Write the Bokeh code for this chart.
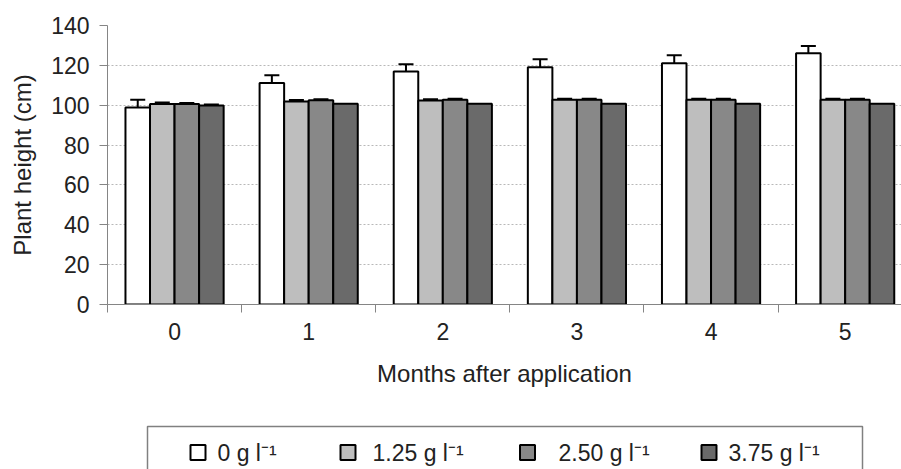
from bokeh.plotting import figure
from bokeh.models import Range1d, FixedTicker, ColumnDataSource, Whisker, TeeHead
from bokeh.layouts import column
from bokeh.core.properties import value
from bokeh.embed import file_html
from bokeh.resources import INLINE

# ---- data ----
months = ["0", "1", "2", "3", "4", "5"]
series_labels = ["0 g l\u207b\u00b9", "1.25 g l\u207b\u00b9", "2.50 g l\u207b\u00b9", "3.75 g l\u207b\u00b9"]
h_0 = [98.9, 111.1, 116.9, 119.1, 121.1, 126.1]
e_0 = [3.9, 3.9, 3.6, 4.0, 4.0, 3.6]
h_125 = [100.6, 101.9, 102.4, 102.7, 102.7, 102.7]
e_125 = [0.7, 0.7, 0.6, 0.6, 0.6, 0.6]
h_250 = [100.6, 102.5, 102.8, 102.8, 102.8, 102.8]
e_250 = [0.5, 0.5, 0.5, 0.5, 0.5, 0.5]
h_375 = [99.8, 100.7, 100.7, 100.7, 100.7, 100.7]
e_375 = [0.5, 0.0, 0.0, 0.0, 0.0, 0.0]
y_ticks = [0, 20, 40, 60, 80, 100, 120, 140]

heights = [h_0, h_125, h_250, h_375]
errors = [e_0, e_125, e_250, e_375]
colors = ["#ffffff", "#bebebe", "#888888", "#6a6a6a"]

FONT = "Liberation Sans"
TXT = "#222222"
AX = "#858585"

bar_w = 0.183
n = len(months)

p = figure(width=901, height=418, x_range=Range1d(0, 5.92), y_range=Range1d(0, 140),
           output_backend="svg", toolbar_location=None,
           min_border_left=107, min_border_top=25, min_border_right=0, min_border_bottom=114)
p.outline_line_color = None
p.background_fill_color = "white"

for k, (hs, es, c) in enumerate(zip(heights, errors, colors)):
    off = (k - 1.5) * bar_w
    xs = [i + 0.5 + off for i in range(n)]
    src = ColumnDataSource(dict(x=xs, top=hs))
    p.vbar(x="x", top="top", bottom=0, width=bar_w, source=src,
           fill_color=c, line_color="black", line_width=2)
    ex = [x for x, e in zip(xs, es) if e > 0]
    lo = [h - e for h, e in zip(hs, es) if e > 0]
    up = [h + e for h, e in zip(hs, es) if e > 0]
    esrc = ColumnDataSource(dict(x=ex, lower=lo, upper=up))
    w = Whisker(source=esrc, base="x", lower="lower", upper="upper",
                line_color="black", line_width=2,
                upper_head=TeeHead(size=15, line_width=2, line_color="black"),
                lower_head=TeeHead(size=15, line_width=2, line_color="black"))
    p.add_layout(w)

# y axis
p.yaxis.ticker = FixedTicker(ticks=y_ticks)
p.yaxis.axis_label = "Plant height (cm)"
p.yaxis.axis_label_text_font = FONT
p.yaxis.axis_label_text_font_size = "24px"
p.yaxis.axis_label_text_font_style = "normal"
p.yaxis.axis_label_text_color = TXT
p.yaxis.axis_label_standoff = 12
p.yaxis.major_label_text_font = FONT
p.yaxis.major_label_text_font_size = "23px"
p.yaxis.major_label_text_color = TXT
p.yaxis.major_label_standoff = 10
p.yaxis.major_tick_out = 8
p.yaxis.major_tick_in = 0
p.yaxis.minor_tick_line_color = None
p.yaxis.axis_line_color = AX
p.yaxis.major_tick_line_color = AX

# x axis
centers = [i + 0.5 for i in range(n)]
p.xaxis.ticker = FixedTicker(ticks=centers, minor_ticks=list(range(n + 1)))
p.xaxis.major_label_overrides = {c: m for c, m in zip(centers, months)}
p.xaxis.axis_label = "Months after application"
p.xaxis.axis_label_text_font = FONT
p.xaxis.axis_label_text_font_size = "24px"
p.xaxis.axis_label_text_font_style = "normal"
p.xaxis.axis_label_text_color = TXT
p.xaxis.axis_label_standoff = 17
p.xaxis.major_label_text_font = FONT
p.xaxis.major_label_text_font_size = "23px"
p.xaxis.major_label_text_color = TXT
p.xaxis.major_label_standoff = 10
p.xaxis.major_tick_out = 0
p.xaxis.major_tick_in = 0
p.xaxis.minor_tick_out = 8
p.xaxis.minor_tick_in = 0
p.xaxis.axis_line_color = AX
p.xaxis.minor_tick_line_color = AX

p.xgrid.visible = False
p.ygrid.grid_line_color = "#b8b8b8"
p.ygrid.grid_line_dash = "2 2"
p.ygrid.grid_line_width = 1

# legend strip (data units = page pixels: x from left, y up from bottom edge)
leg = figure(width=901, height=51, x_range=Range1d(107, 901), y_range=Range1d(0, 51),
             output_backend="svg", toolbar_location=None,
             min_border_left=107, min_border_right=0, min_border_top=0, min_border_bottom=0)
leg.xaxis.visible = False
leg.yaxis.visible = False
leg.grid.visible = False
leg.outline_line_color = None
leg.quad(left=147, right=862, bottom=-10, top=43, fill_color=None,
         line_color="#808080", line_width=1.5)
sq_x = [197.5, 347.5, 527, 708.5]
tx_x = [217, 372, 558, 728]
leg.scatter(x=sq_x, y=[17] * 4, marker="square", size=15, fill_color=colors,
            line_color="black", line_width=2)
leg.text(x=tx_x, y=[17] * 4, text=series_labels, text_font=value(FONT),
         text_font_size="23px", text_color=TXT, text_baseline="middle", text_align="left")

layout = column(p, leg, spacing=0)
open("out.html", "w").write(file_html(layout, INLINE))
